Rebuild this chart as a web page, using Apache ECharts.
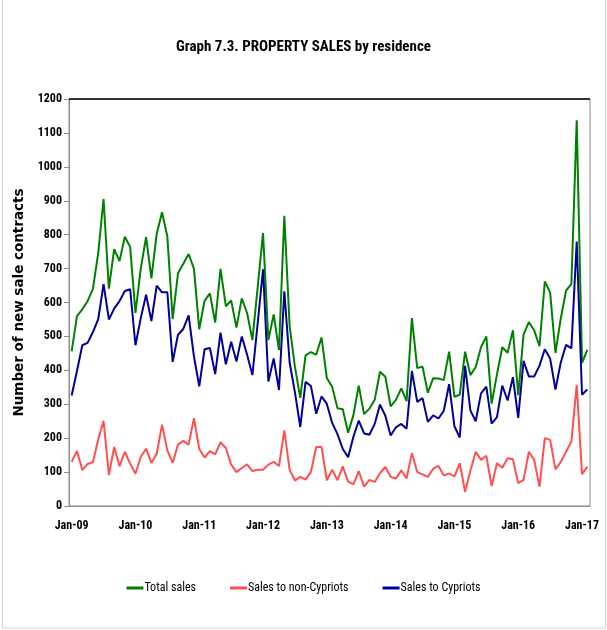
<!DOCTYPE html>
<html>
<head>
<meta charset="utf-8">
<script src="https://cdn.jsdelivr.net/npm/echarts@6/dist/echarts.min.js"></script>
<style>
html,body{margin:0;padding:0;background:#fff;}
#chart{width:607px;height:630px;}
</style>
</head>
<body>
<div id="chart"></div>
<script>
// Monthly, Jan-09 .. Feb-17
const monthNames = ['Jan','Feb','Mar','Apr','May','Jun','Jul','Aug','Sep','Oct','Nov','Dec'];
const years = ['09','10','11','12','13','14','15','16','17'];
const categories = [];
years.forEach(function (y) { monthNames.forEach(function (m) { categories.push(m + '-' + y); }); });
categories.length = 98;

const totalSales = [
 456,560,580,604,640,746,905,641,757,722,794,764,
 569,700,793,671,803,866,794,551,686,714,743,700,
 521,605,627,541,699,589,606,526,612,569,489,647,
 805,489,565,460,856,530,410,319,444,454,446,497,
 377,352,288,285,216,268,355,271,287,313,396,381,
 294,313,347,309,554,407,411,334,377,376,371,455,
 322,328,455,386,410,468,500,302,388,468,452,518,
 327,505,542,518,471,662,630,451,553,635,655,1137,
 422,460
];
const nonCypriots = [
 130,162,106,124,129,197,251,91,174,117,160,125,
 95,145,169,127,154,240,164,127,181,192,181,259,
 168,143,162,152,188,171,122,100,112,123,103,107,
 107,122,130,118,223,107,75,86,78,100,174,174,
 76,107,76,117,72,64,103,57,77,71,97,115,
 86,81,105,81,156,100,93,86,110,118,90,96,
 87,126,42,104,160,136,148,59,126,113,141,138,
 67,77,160,136,57,200,195,108,130,160,190,357,
 94,116
];
const cypriots = [
 326,398,474,481,513,551,654,550,582,604,634,639,
 474,554,623,545,650,630,630,425,505,522,562,441,
 353,462,466,389,511,418,484,426,500,446,386,540,
 698,367,435,342,633,423,335,233,366,354,272,323,
 301,245,212,168,144,204,252,214,210,242,299,266,
 208,232,242,228,398,307,318,248,267,258,281,359,
 235,202,413,282,250,332,352,243,262,355,311,380,
 260,428,382,382,414,462,435,343,423,475,465,780,
 328,344
];
const yTicks = { min: 0, max: 1200, step: 100 };

const narrow = "'Liberation Sans Narrow','Arial Narrow','Roboto Condensed','Liberation Sans',sans-serif";

const chart = echarts.init(document.getElementById('chart'), null, { renderer: 'canvas' });
chart.setOption({
  backgroundColor: '#ffffff',
  animation: false,
  title: {
    text: 'Graph 7.3. PROPERTY SALES by residence',
    left: 'center',
    top: 35,
    textStyle: { fontFamily: narrow, fontWeight: 'bold', fontSize: 15, color: '#000' }
  },
  grid: { left: 69, right: 17, top: 99, bottom: 124, show: true, borderColor: '#8c8c8c', borderWidth: 1 },
  legend: {
    top: 577,
    left: 'center',
    itemGap: 34,
    itemWidth: 17,
    itemHeight: 3,
    icon: 'rect',
    textStyle: { fontFamily: narrow, fontSize: 12, color: '#000', padding: [0, 0, 0, -4] },
    data: ['Total sales', 'Sales to non-Cypriots', 'Sales to Cypriots']
  },
  xAxis: {
    type: 'category',
    data: categories,
    boundaryGap: true,
    axisLine: { lineStyle: { color: '#8c8c8c' } },
    axisTick: { show: false },
    axisLabel: { interval: 11, margin: 14, fontFamily: narrow, fontWeight: 'bold', fontSize: 12, color: '#000' },
    splitLine: { show: false }
  },
  yAxis: {
    type: 'value',
    min: yTicks.min, max: yTicks.max, interval: yTicks.step,
    name: 'Number of new sale contracts',
    nameLocation: 'middle',
    nameRotate: 90,
    nameGap: 36,
    nameTextStyle: { fontFamily: "'DejaVu Sans',sans-serif", fontWeight: 'bold', fontSize: 13.5, color: '#000' },
    axisLine: { show: true, lineStyle: { color: '#8c8c8c' } },
    axisTick: { show: true, inside: false, length: 5, lineStyle: { color: '#8c8c8c' } },
    axisLabel: { margin: 7, fontFamily: narrow, fontWeight: 'bold', fontSize: 12, color: '#000',
      formatter: function (v) { return String(v); } },
    splitLine: { show: false }
  },
  graphic: [
    { type: 'line', shape: { x1: 69, y1: 99, x2: 590, y2: 99 }, style: { stroke: '#000', lineWidth: 1.5 }, z: 10 },
    { type: 'rect', shape: { x: 2.5, y: -2, width: 603, height: 630 }, style: { fill: 'none', stroke: '#d0d0d0', lineWidth: 1 }, z: 0 }
  ],
  series: [
    { name: 'Total sales', type: 'line', data: totalSales, showSymbol: false, symbol: 'none', lineStyle: { color: '#008000', width: 2 }, itemStyle: { color: '#008000' } },
    { name: 'Sales to non-Cypriots', type: 'line', data: nonCypriots, showSymbol: false, symbol: 'none', lineStyle: { color: '#ff5050', width: 2 }, itemStyle: { color: '#ff5050' } },
    { name: 'Sales to Cypriots', type: 'line', data: cypriots, showSymbol: false, symbol: 'none', lineStyle: { color: '#000099', width: 2 }, itemStyle: { color: '#000099' } }
  ]
});
</script>
</body>
</html>
